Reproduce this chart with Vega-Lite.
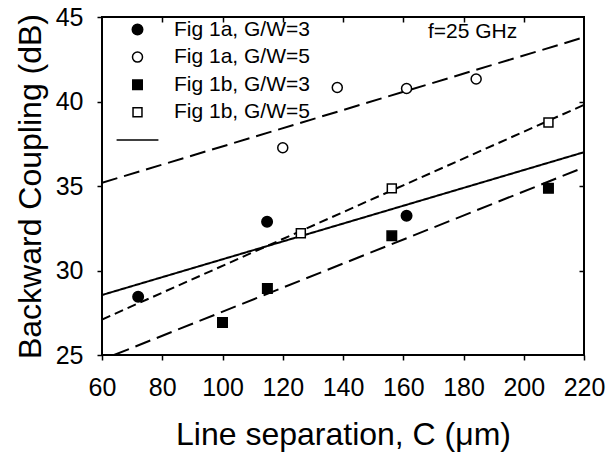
{
  "$schema": "https://vega.github.io/schema/vega-lite/v6.json",
  "width": 482,
  "height": 338,
  "autosize": {"type": "none"},
  "padding": {"left": 102, "top": 17, "right": 24, "bottom": 102},
  "background": "white",
  "config": {
    "font": "Liberation Sans",
    "view": {"stroke": "black", "strokeWidth": 2},
    "axis": {
      "grid": false,
      "domain": false,
      "tickColor": "black",
      "tickWidth": 1.5,
      "tickSize": 5,
      "labelOverlap": false,
      "labelFlush": false,
      "labelFont": "Liberation Sans",
      "labelFontSize": 25,
      "labelColor": "black",
      "titleFont": "Liberation Sans",
      "titleFontSize": 32,
      "titleFontWeight": "normal",
      "titleColor": "black"
    },
    "legend": {
      "padding": 0,
      "labelFont": "Liberation Sans",
      "labelFontSize": 21,
      "labelColor": "black",
      "symbolStrokeColor": "black",
      "symbolStrokeWidth": 1.5,
      "symbolOpacity": 1
    }
  },
  "datasets": {
    "points": [
      {"series": "Fig 1a, G/W=3", "C": 72, "B": 28.45},
      {"series": "Fig 1a, G/W=3", "C": 114.8, "B": 32.88},
      {"series": "Fig 1a, G/W=3", "C": 161.1, "B": 33.24},
      {"series": "Fig 1a, G/W=5", "C": 120.0, "B": 37.26},
      {"series": "Fig 1a, G/W=5", "C": 138.1, "B": 40.83},
      {"series": "Fig 1a, G/W=5", "C": 161.1, "B": 40.77},
      {"series": "Fig 1a, G/W=5", "C": 184.2, "B": 41.33},
      {"series": "Fig 1b, G/W=3", "C": 100.0, "B": 26.93},
      {"series": "Fig 1b, G/W=3", "C": 114.9, "B": 28.94},
      {"series": "Fig 1b, G/W=3", "C": 156.2, "B": 32.05},
      {"series": "Fig 1b, G/W=3", "C": 208.2, "B": 34.86},
      {"series": "Fig 1b, G/W=5", "C": 126.0, "B": 32.2},
      {"series": "Fig 1b, G/W=5", "C": 156.2, "B": 34.86},
      {"series": "Fig 1b, G/W=5", "C": 208.2, "B": 38.76}
    ],
    "fits": [
      {"fit": "1a5", "style": "long", "C": 60, "B": 35.19},
      {"fit": "1a5", "style": "long", "C": 220, "B": 43.8},
      {"fit": "1b5", "style": "short", "C": 60, "B": 27.1},
      {"fit": "1b5", "style": "short", "C": 220, "B": 39.8},
      {"fit": "1a3", "style": "solid", "C": 60, "B": 28.55},
      {"fit": "1a3", "style": "solid", "C": 220, "B": 37.0},
      {"fit": "1b3", "style": "long", "C": 64, "B": 25},
      {"fit": "1b3", "style": "long", "C": 220, "B": 36.1}
    ],
    "notes": [
      {"label": "f=25 GHz", "C": 183, "B": 44.1}
    ]
  },
  "layer": [
    {
      "data": {"name": "fits"},
      "mark": {"type": "line", "color": "black", "strokeWidth": 2, "clip": true},
      "encoding": {
        "x": {"field": "C", "type": "quantitative", "scale": {"domain": [60, 220], "nice": false, "zero": false},
              "axis": {"orient": "bottom", "values": [60, 80, 100, 120, 140, 160, 180, 200, 220], "labelPadding": 15, "title": "Line separation, C (μm)", "titlePadding": 19}},
        "y": {"field": "B", "type": "quantitative", "scale": {"domain": [25, 45], "nice": false, "zero": false},
              "axis": {"orient": "left", "values": [25, 30, 35, 40, 45], "labelPadding": 14, "title": "Backward Coupling (dB)", "titlePadding": 8}},
        "detail": {"field": "fit"},
        "strokeDash": {"field": "style", "type": "nominal", "scale": {"domain": ["long", "short", "solid"], "range": [[16, 7], [9, 5], [1, 0]]}, "legend": null}
      }
    },
    {
      "data": {"name": "points"},
      "mark": {"type": "point", "filled": true, "stroke": "black", "strokeWidth": 1.5, "opacity": 1},
      "encoding": {
        "x": {"field": "C", "type": "quantitative", "axis": {"orient": "top", "title": null, "labels": false, "ticks": true, "tickSize": 5, "offset": -5, "domain": false, "values": [80, 100, 120, 140, 160, 180, 200]}},
        "y": {"field": "B", "type": "quantitative", "axis": {"orient": "right", "title": null, "labels": false, "ticks": true, "tickSize": 5, "offset": -5, "domain": false, "values": [30, 35, 40]}},
        "shape": {"field": "series", "type": "nominal",
                  "scale": {"domain": ["Fig 1a, G/W=3", "Fig 1a, G/W=5", "Fig 1b, G/W=3", "Fig 1b, G/W=5", "fit"], "range": ["circle", "circle", "square", "square", "M-5,0L5,0"]},
                  "legend": {"title": null, "orient": "none", "legendX": 25, "legendY": 2, "rowPadding": 5.6, "labelOffset": 26, "labelExpr": "datum.label == 'fit' ? '' : datum.label", "encode": {"symbols": {"update": {"stroke": {"value": "black"}, "strokeWidth": {"value": 1.5}}}}}},
        "fill": {"field": "series", "type": "nominal",
                 "scale": {"domain": ["Fig 1a, G/W=3", "Fig 1a, G/W=5", "Fig 1b, G/W=3", "Fig 1b, G/W=5", "fit"], "range": ["black", "white", "black", "white", "black"]},
                 "legend": {"title": null, "orient": "none", "legendX": 25, "legendY": 2, "rowPadding": 5.6, "labelOffset": 26, "labelExpr": "datum.label == 'fit' ? '' : datum.label", "encode": {"symbols": {"update": {"stroke": {"value": "black"}, "strokeWidth": {"value": 1.5}}}}}},
        "size": {"field": "series", "type": "nominal",
                 "scale": {"domain": ["Fig 1a, G/W=3", "Fig 1a, G/W=5", "Fig 1b, G/W=3", "Fig 1b, G/W=5", "fit"], "range": [110, 70, 85, 80, 100]},
                 "legend": {"title": null, "orient": "none", "legendX": 25, "legendY": 2, "rowPadding": 5.6, "labelOffset": 26, "labelExpr": "datum.label == 'fit' ? '' : datum.label", "encode": {"symbols": {"update": {"stroke": {"value": "black"}, "strokeWidth": {"value": 1.5}}}}}}
      }
    },
    {
      "data": {"name": "notes"},
      "mark": {"type": "text", "font": "Liberation Sans", "fontSize": 21, "color": "black", "align": "center", "baseline": "middle"},
      "encoding": {
        "x": {"field": "C", "type": "quantitative", "axis": null},
        "y": {"field": "B", "type": "quantitative", "axis": null},
        "text": {"field": "label"}
      }
    }
  ]
}
